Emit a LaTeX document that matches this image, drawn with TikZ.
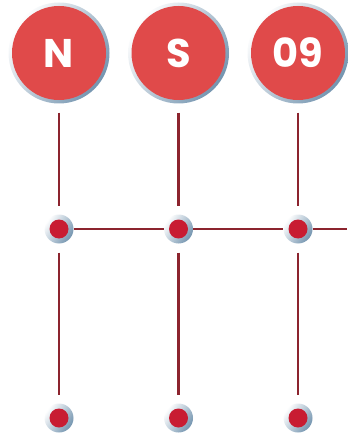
\documentclass[tikz,border=0pt]{standalone}
\usepackage{fontspec}
\newfontfamily\badgefont{Poppins}
\usepackage{tikz}
\definecolor{badgeRed}{RGB}{224,74,74}
\definecolor{dotRed}{RGB}{200,28,50}
\definecolor{lineRed}{RGB}{140,36,46}
\definecolor{ringBlue}{RGB}{115,148,175}
\usetikzlibrary{arrows.meta, shapes, positioning}

\begin{document}
\begin{tikzpicture}[
            ringBase/.style = {circle, inner sep=0pt, top color=white,
                            bottom color=ringBlue, shading angle=55},
            badge/.style = {ringBase, minimum size=101pt, text=white,
                            path picture={\fill[badgeRed] (path picture bounding box.center) circle (47pt);},
                            font=\badgefont\bfseries\fontsize{40}{40}\selectfont},
            dot/.style = {ringBase, minimum size=29pt,
                            path picture={\fill[dotRed] (path picture bounding box.center) circle (9.5pt);}},
            link/.style = {draw=lineRed, line width=2.8pt},
            gapLink/.style = {link, shorten <=9pt, shorten >=8pt},
            on grid,
            node distance=119.5pt]
            \useasboundingbox (0,0) rectangle (347pt,-435pt);
            \node (N) [badge] at (59pt,-53pt) {N};
            \node (S) [badge, right=of N] {S};
            \node (Nine) [badge, right=of S] {09};
            \node (DotN) [dot, below=176pt of N] {};
            \node (DotS) [dot, below=176pt of S] {};
            \node (DotNine) [dot, below=176pt of Nine] {};
            \node (EndN) [dot, below=189pt of DotN] {};
            \node (EndS) [dot, below=189pt of DotS] {};
            \node (EndNine) [dot, below=189pt of DotNine] {};
            \coordinate[right=48.5pt of DotNine] (LineEnd);
            % vertical links
            \draw[gapLink] (N) -- (DotN);
            \draw[gapLink] (S) -- (DotS);
            \draw[gapLink] (Nine) -- (DotNine);
            \draw[gapLink] (DotN) -- (EndN);
            \draw[gapLink] (DotS) -- (EndS);
            \draw[gapLink] (DotNine) -- (EndNine);
            % horizontal link
            \draw[link] (DotN) -- (DotS);
            \draw[link] (DotS) -- (DotNine);
            \draw[link] (DotNine) -- (LineEnd);
        \end{tikzpicture}
\end{document}
